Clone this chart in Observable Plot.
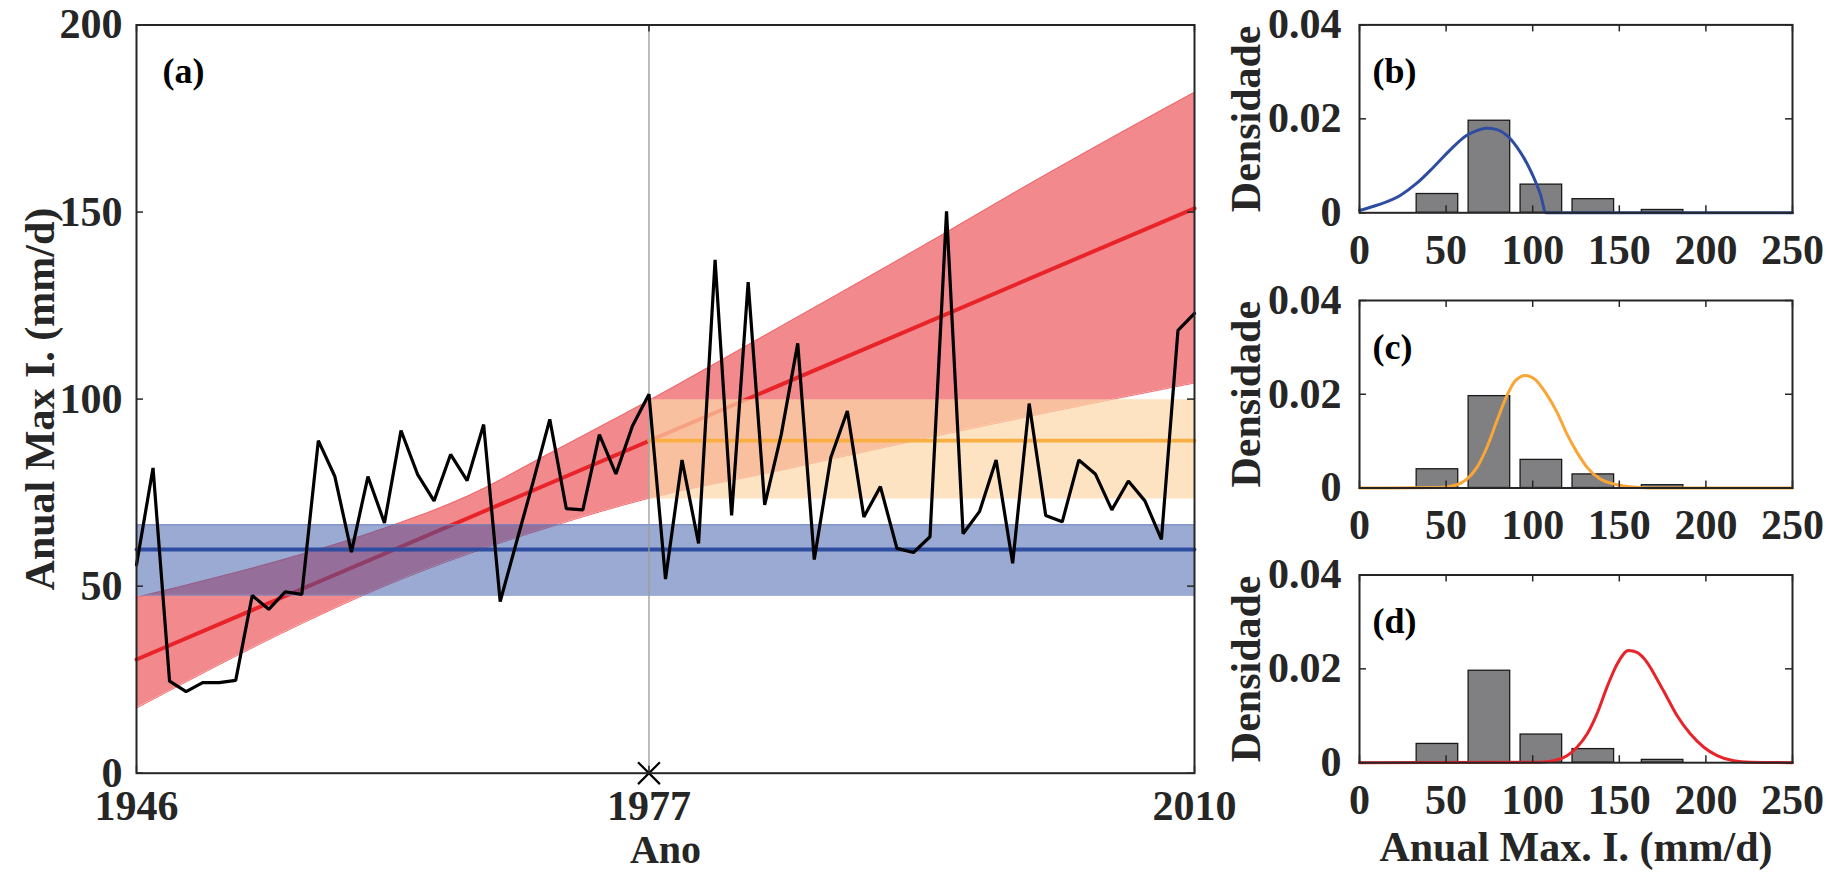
<!DOCTYPE html>
<html>
<head>
<meta charset="utf-8">
<script src="https://cdn.jsdelivr.net/npm/d3@7"></script>
<script src="https://cdn.jsdelivr.net/npm/@observablehq/plot@0.6"></script>
<style>
  body { margin: 0; background: #fff; }
  #root { position: relative; width: 1827px; height: 873px; overflow: hidden; background: #fff; }
  #root > svg { position: absolute; }
</style>
</head>
<body>
<div id="root"></div>
<script>
// ---------- data ----------
const years = [1946,1947,1948,1949,1950,1951,1952,1953,1954,1955,1956,1957,1958,1959,1960,1961,1962,1963,1964,1965,1966,1967,1968,1969,1970,1971,1972,1973,1974,1975,1976,1977,1978,1979,1980,1981,1982,1983,1984,1985,1986,1987,1988,1989,1990,1991,1992,1993,1994,1995,1996,1997,1998,1999,2000,2001,2002,2003,2004,2005,2006,2007,2008,2009,2010];
const annualMax = [55.7,81.6,24.6,21.8,24.2,24.2,24.8,47.5,43.8,48.5,47.8,88.9,79.3,59.1,79.3,66.9,91.6,79.9,72.8,85.2,78.2,93.2,45.9,62.0,78.0,94.6,70.7,70.4,90.5,80.0,92.8,101.3,51.9,83.7,61.4,137.2,68.9,131.3,71.7,90.5,114.9,57.1,84.4,96.8,68.5,76.6,60.1,59.0,63.2,150.2,64.0,70.0,83.7,56.1,98.8,68.9,67.2,83.7,80.0,70.4,78.1,72.8,62.5,118.4,122.9];

// non-stationary (trend) model
const trendYears = [1946, 2010];
const trendValues = [30.4, 151.0];
const bandYears = [1946, 1951, 1956, 1961, 1966, 1971, 1977, 1985, 1993, 2001, 2010];
const bandUpper = [47.0, 52.5, 58.5, 65.5, 74.0, 85.5, 99.6, 119.5, 139.5, 160.0, 182.0];
const bandLower = [17.4, 29.0, 40.0, 50.0, 58.5, 65.8, 73.5, 81.0, 88.8, 96.3, 104.3];

// stationary model (whole record)
const stationaryYears = [1946, 2010];
const stationaryMean = 59.8, stationaryLow = 47.6, stationaryHigh = 66.4;

// stationary model after change point
const recentYears = [1977, 2010];
const recentMean = 88.9, recentLow = 73.3, recentHigh = 99.8;

const changeYear = 1977;

// histogram (density)
const binLo = [33, 63, 93, 123, 163];
const binHi = [57, 87, 117, 147, 187];
const binDensity = [0.0040, 0.0196, 0.0060, 0.0029, 0.0006];

// fitted pdf curves
const pdfStationaryX = [0, 10, 23.5, 33.1, 42.7, 52.4, 62, 67.8, 73.2, 79.4, 85.1, 90.9, 96.7, 100.5, 104.4, 107.7, 150, 250];
const pdfStationaryY = [0.0005, 0.0016, 0.0037, 0.0063, 0.0097, 0.0134, 0.0165, 0.0175, 0.0180, 0.0177, 0.0165, 0.0140, 0.0105, 0.0076, 0.0040, 0, 0, 0];
const pdfRecentX = [0, 46.6, 56.2, 62, 67.8, 73.6, 79.4, 85.1, 90, 95.7, 101.5, 107.3, 114, 119.8, 125.6, 131.4, 139, 148.7, 158.3, 168, 250];
const pdfRecentY = [0, 0.0001, 0.0007, 0.0019, 0.0044, 0.0087, 0.0144, 0.0197, 0.0229, 0.0240, 0.0231, 0.0204, 0.0162, 0.0115, 0.0076, 0.0044, 0.0019, 0.0007, 0.0002, 0, 0];
const pdfTrendX = [0, 104.4, 112.1, 119.8, 125.6, 131.4, 137.1, 142.9, 148.7, 155.4, 160.2, 166, 171.8, 177.6, 183.4, 191.1, 198.8, 206.5, 216.1, 225.7, 250];
const pdfTrendY = [0, 0.0001, 0.0004, 0.0015, 0.0033, 0.0061, 0.0104, 0.0161, 0.0210, 0.0239, 0.0235, 0.0214, 0.0178, 0.0139, 0.0100, 0.0061, 0.0033, 0.0015, 0.0004, 0.0001, 0];

// ticks & labels
const yearTicks = [1946, 1977, 2010];
const valueTicks = [0, 50, 100, 150, 200];
const intensityTicks = [0, 50, 100, 150, 200, 250];
const densityTicks = [0, 0.02, 0.04];

// ---------- build tables ----------
const series = years.map((x, i) => ({x, y: annualMax[i]}));
const trend = trendYears.map((x, i) => ({x, y: trendValues[i]}));
const band = bandYears.map((x, i) => ({x, lo: bandLower[i], hi: bandUpper[i]}));
const statBand = stationaryYears.map(x => ({x, lo: stationaryLow, hi: stationaryHigh, m: stationaryMean}));
const recBand = recentYears.map(x => ({x, lo: recentLow, hi: recentHigh, m: recentMean}));
const bins = binLo.map((lo, i) => ({lo, hi: binHi[i], d: binDensity[i]}));

const FONT = "'Liberation Serif', 'Times New Roman', Times, serif";
const INK = "#262626";
const root = document.getElementById("root");

// ---------- main panel (a) ----------
const mW = 1200, mH = 873;
const mL = 136, mT = 24.5, mR = mW - 1194, mB = mH - 772.7;
const innerW = mW - mL - mR, innerH = mH - mT - mB;
const TK = 7;

const main = Plot.plot({
  width: mW, height: mH,
  marginLeft: mL, marginTop: mT, marginRight: mR, marginBottom: mB,
  x: {domain: [1946, 2010], label: null},
  y: {domain: [0, 200], label: null},
  style: {fontFamily: FONT, fontWeight: "bold", fontSize: "42px", color: INK, background: "transparent", overflow: "visible"},
  marks: [
    Plot.areaY(band, {x: "x", y1: "lo", y2: "hi", fill: "#E8282D", fillOpacity: 0.55, curve: "monotone-x"}),
    Plot.line(band, {x: "x", y: "hi", stroke: "#F06A6E", strokeWidth: 1, curve: "monotone-x"}),
    Plot.line(band, {x: "x", y: "lo", stroke: "#F06A6E", strokeWidth: 1, curve: "monotone-x"}),
    Plot.line(trend, {x: "x", y: "y", stroke: "#E8242A", strokeWidth: 4}),
    Plot.areaY(statBand, {x: "x", y1: "lo", y2: "hi", fill: "#3755A5", fillOpacity: 0.5}),
    Plot.line(statBand, {x: "x", y: "hi", stroke: "#6f84c0", strokeWidth: 1}),
    Plot.line(statBand, {x: "x", y: "lo", stroke: "#6f84c0", strokeWidth: 1}),
    Plot.line(statBand, {x: "x", y: "m", stroke: "#2F4DA0", strokeWidth: 3.8}),
    Plot.areaY(recBand, {x: "x", y1: "lo", y2: "hi", fill: "#FCD7A6", fillOpacity: 0.7}),
    Plot.line(recBand, {x: "x", y: "m", stroke: "#F9AE42", strokeWidth: 3.6}),
    Plot.ruleX([changeYear], {x: d => d, stroke: "#9a9a9a", strokeWidth: 1.3}),
    Plot.line(series, {x: "x", y: "y", stroke: "#000", strokeWidth: 3.2, strokeLinejoin: "miter"}),
    Plot.dot([changeYear], {x: d => d, y: () => 0, symbol: "times", r: 10, stroke: "#000", strokeWidth: 2.2}),
    // inward ticks
    Plot.tickY(valueTicks, {y: d => d, insetRight: innerW - TK, stroke: INK, strokeWidth: 1.5}),
    Plot.tickY(valueTicks, {y: d => d, insetLeft: innerW - TK, stroke: INK, strokeWidth: 1.5}),
    Plot.tickX(yearTicks, {x: d => d, insetTop: innerH - TK, stroke: INK, strokeWidth: 1.5}),
    Plot.tickX(yearTicks, {x: d => d, insetBottom: innerH - TK, stroke: INK, strokeWidth: 1.5}),
    Plot.axisY({ticks: valueTicks, tickSize: 0, tickPadding: 14, label: null, tickFormat: d => String(d)}),
    Plot.axisX({ticks: yearTicks, tickSize: 0, tickPadding: 17, label: null, tickFormat: d => String(d)}),
    Plot.frame({stroke: INK, strokeWidth: 2}),
    Plot.text(["(a)"], {text: d => d, frameAnchor: "top-left", dx: 26, dy: 58, textAnchor: "start", lineAnchor: "bottom", fontSize: 36, fill: "#000"}),
    Plot.text(["Anual Max I. (mm/d)"], {text: d => d, frameAnchor: "left", dx: -83, rotate: -90, lineAnchor: "bottom", textAnchor: "middle", fontSize: 42, fill: INK}),
    Plot.text(["Ano"], {text: d => d, frameAnchor: "bottom", dy: 90, lineAnchor: "bottom", textAnchor: "middle", fontSize: 40, fill: INK})
  ]
});
main.style.left = "0px"; main.style.top = "0px";
root.appendChild(main);

// ---------- histogram panels (b), (c), (d) ----------
function histPanel({label, px, py, color, top, frameTop, frameBottom, height, xLabel}) {
  const W = 627, L = 159, R = 35;
  const T = frameTop - top, B = height - (frameBottom - top);
  const iW = W - L - R, iH = height - T - B;
  const pdf = px.map((x, i) => ({x, y: py[i]}));
  const marks = [
    Plot.rect(bins, {x1: "lo", x2: "hi", y1: () => 0, y2: "d", fill: "#808083", stroke: "#1a1a1a", strokeWidth: 1.3}),
    Plot.line(pdf, {x: "x", y: "y", stroke: color, strokeWidth: 3, curve: "monotone-x"}),
    Plot.tickY(densityTicks, {y: d => d, insetRight: iW - TK, stroke: INK, strokeWidth: 1.5}),
    Plot.tickY(densityTicks, {y: d => d, insetLeft: iW - TK, stroke: INK, strokeWidth: 1.5}),
    Plot.tickX(intensityTicks, {x: d => d, insetTop: iH - TK, stroke: INK, strokeWidth: 1.5}),
    Plot.tickX(intensityTicks, {x: d => d, insetBottom: iH - TK, stroke: INK, strokeWidth: 1.5}),
    Plot.axisY({ticks: densityTicks, tickSize: 0, tickPadding: 18, label: null, tickFormat: d => d === 0 ? "0" : d.toFixed(2)}),
    Plot.axisX({ticks: intensityTicks, tickSize: 0, tickPadding: 21, label: null, tickFormat: d => String(d)}),
    Plot.frame({stroke: INK, strokeWidth: 2}),
    Plot.text([label], {text: d => d, frameAnchor: "top-left", dx: 13, dy: 58, textAnchor: "start", lineAnchor: "bottom", fontSize: 36, fill: "#000"}),
    Plot.text(["Densidade"], {text: d => d, frameAnchor: "left", dx: -100, rotate: -90, lineAnchor: "bottom", textAnchor: "middle", fontSize: 42, fill: INK})
  ];
  if (xLabel) marks.push(Plot.text([xLabel], {text: d => d, frameAnchor: "bottom", dy: 98, lineAnchor: "bottom", textAnchor: "middle", fontSize: 42, fill: INK}));
  const p = Plot.plot({
    width: W, height,
    marginLeft: L, marginRight: R, marginTop: T, marginBottom: B,
    x: {domain: [0, 250], label: null},
    y: {domain: [0, 0.04], label: null},
    style: {fontFamily: FONT, fontWeight: "bold", fontSize: "42px", color: INK, background: "transparent", overflow: "visible"},
    marks
  });
  p.style.left = "1200px"; p.style.top = top + "px";
  root.appendChild(p);
}

histPanel({label: "(b)", px: pdfStationaryX, py: pdfStationaryY, color: "#2F4DA0", top: 0, frameTop: 24.4, frameBottom: 212.3, height: 275});
histPanel({label: "(c)", px: pdfRecentX, py: pdfRecentY, color: "#F9A637", top: 275, frameTop: 300, frameBottom: 487.5, height: 275});
histPanel({label: "(d)", px: pdfTrendX, py: pdfTrendY, color: "#E8242A", top: 550, frameTop: 574.5, frameBottom: 762.2, height: 323, xLabel: "Anual Max. I. (mm/d)"});
</script>
</body>
</html>
